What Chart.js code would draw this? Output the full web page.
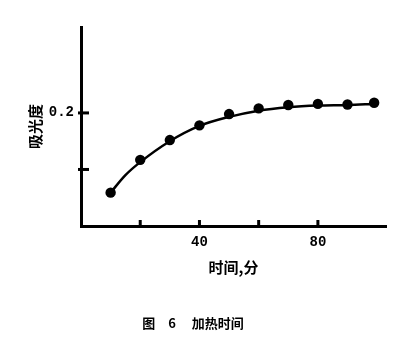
<!DOCTYPE html>
<html><head><meta charset="utf-8">
<script src="https://cdn.jsdelivr.net/npm/chart.js@4/dist/chart.umd.min.js"></script>
<style>html,body{margin:0;padding:0;background:#fff}#wrap{width:417px;height:354px}</style>
</head><body><div id="wrap"><canvas id="c" width="417" height="354"></canvas></div>
<script>
// measured points (time in min, absorbance)
const pointX = [10, 20, 30, 40, 50, 60, 70, 80, 90, 99];
const pointY = [0.059, 0.117, 0.152, 0.178, 0.198, 0.208, 0.214, 0.216, 0.215, 0.218];
// smooth fitted curve
const curveX = [10, 15, 20, 30, 40, 50, 60, 70, 80, 90, 99];
const curveY = [0.059, 0.090, 0.113, 0.150, 0.177, 0.193, 0.204, 0.210, 0.213, 0.214, 0.216];
const xTickMarks = [20, 40, 60, 80];
const xTickLabels = [40, 80];
const yTickMarks = [0.1, 0.2];
const yTickLabels = [0.2];
const xTitle = '时间,分';
const yTitle = '吸光度';
const caption = '图　6　 加热时间';

const inwardTicks = {
  id: 'inwardTicks',
  afterDatasetsDraw(chart) {
    const ctx = chart.ctx, xs = chart.scales.x, ys = chart.scales.y;
    const x0 = xs.getPixelForValue(0), y0 = ys.getPixelForValue(0);
    ctx.save();
    ctx.strokeStyle = '#000';
    ctx.lineWidth = 3;
    yTickMarks.forEach(v => {
      const py = ys.getPixelForValue(v);
      ctx.beginPath(); ctx.moveTo(x0 - 3, py); ctx.lineTo(x0 + 8, py); ctx.stroke();
    });
    xTickMarks.forEach(v => {
      const px = xs.getPixelForValue(v);
      ctx.beginPath(); ctx.moveTo(px, y0 + 1); ctx.lineTo(px, y0 - 6); ctx.stroke();
    });
    ctx.restore();
  }
};

const tickFont = {family: '"Liberation Mono", monospace', size: 14, weight: 'bold', lineHeight: 1.2};
const cjkFont = {family: '"Noto Sans CJK SC", sans-serif', size: 15, weight: 'bold', lineHeight: 1.2};

new Chart(document.getElementById('c'), {
  type: 'scatter',
  data: {
    datasets: [
      {
        type: 'line',
        data: curveX.map((x, i) => ({x, y: curveY[i]})),
        borderColor: '#000', borderWidth: 2.5, pointRadius: 0,
        cubicInterpolationMode: 'monotone', fill: false
      },
      {
        data: pointX.map((x, i) => ({x, y: pointY[i]})),
        backgroundColor: '#000', borderColor: '#000', pointRadius: 5.2, borderWidth: 0
      }
    ]
  },
  options: {
    responsive: false, animation: false,
    layout: {padding: {top: 27, right: 31, left: 0, bottom: 0}},
    plugins: {
      legend: {display: false}, tooltip: {enabled: false},
      title: {
        display: true, position: 'bottom', text: caption, color: '#000',
        font: {family: '"Noto Sans CJK SC", sans-serif', size: 13, weight: 'bold', lineHeight: 1.2},
        padding: {top: 29.4, bottom: 23}
      }
    },
    scales: {
      x: {
        type: 'linear', min: 0, max: 103,
        afterBuildTicks: s => { s.ticks = xTickLabels.map(v => ({value: v})); },
        afterFit: s => { s.height = 60; },
        grid: {display: false, drawTicks: false},
        border: {display: true, color: '#000', width: 3},
        ticks: {color: '#000', font: tickFont, padding: 7.6, maxRotation: 0, autoSkip: false},
        title: {display: true, text: xTitle, color: '#000', font: cjkFont, padding: {top: 0, bottom: 10}}
      },
      y: {
        type: 'linear', min: 0, max: 0.352,
        afterBuildTicks: s => { s.ticks = yTickLabels.map(v => ({value: v})); },
        afterFit: s => { s.width = 81; },
        grid: {display: false, drawTicks: false},
        border: {display: true, color: '#000', width: 3},
        ticks: {color: '#000', font: tickFont, padding: 7, autoSkip: false},
        title: {display: true, text: yTitle, color: '#000', font: cjkFont, padding: {top: 26, bottom: 0}}
      }
    }
  },
  plugins: [inwardTicks]
});
</script>
</body></html>
